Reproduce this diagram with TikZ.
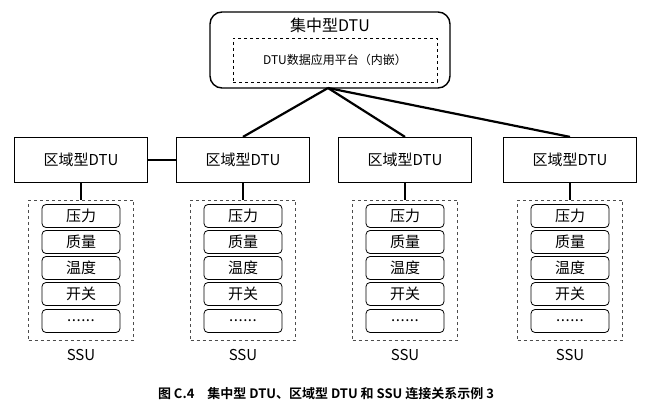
\documentclass[tikz,border=0pt]{standalone}
\usepackage{fontspec}
\setmainfont{Liberation Sans}
\newfontfamily\cjk{Noto Sans CJK SC}[BoldFont = * Bold]
\newcommand{\sixdots}{.\kern0.5pt.\kern0.5pt.\kern0.5pt.\kern0.5pt.\kern0.5pt.}
\tikzstyle{regnode} = [draw = black, line width = 1.2pt, minimum width = 133pt, minimum height = 45pt, font = \cjk\fontsize{15}{15}\selectfont]
\tikzstyle{itemnode} = [draw = black, line width = 0.8pt, rounded corners = 4pt, minimum width = 78pt, minimum height = 23pt, font = \cjk\fontsize{15}{15}\selectfont]
\tikzstyle{groupnode} = [draw = black!70, line width = 0.8pt, dashed, minimum width = 105pt, minimum height = 140pt]
\begin{document}
\begin{tikzpicture}[x = 1pt, y = -1pt, line width = 2.2pt]
			\useasboundingbox (0,0) rectangle (653,414);
			% top node
			\node[draw, line width = 1.4pt, rounded corners = 12pt, minimum width = 240pt, minimum height = 76pt] (top) at (330,50) {};
			\node[font = \cjk\fontsize{16}{16}\selectfont] at (330,25) {集中型DTU};
			\node[draw, line width = 0.9pt, dashed, minimum width = 204pt, minimum height = 44pt, font = \cjk\fontsize{12}{12}\selectfont] (plat) at (335,60) {DTU数据应用平台（内嵌）};
			\coordinate (hub) at (328,88);
			% regional nodes with SSU groups
			\foreach \n/\x in {1/81, 2/243, 3/405, 4/570} {
				\node[regnode] (R\n) at (\x,160) {区域型DTU};
				\node[groupnode] (G\n) at (\x,270) {};
				\foreach \t/\y in {压力/216, 质量/242, 温度/268, 开关/294, {\sixdots}/321} {
					\node[itemnode] at (\x,\y) {\t};
				}
				\node[font = \cjk\fontsize{15}{15}\selectfont] at (\x,355) {SSU};
				\draw (R\n) -- (G\n);
			}
			\draw (R1) -- (R2);
			\draw (hub) -- (R2.north);
			\draw (hub) -- (R3.north);
			\draw (hub) -- (R4.north);
			\node[font = \cjk\bfseries\fontsize{13}{13}\selectfont] at (326,394) {图 C.4\quad 集中型 DTU、区域型 DTU 和 SSU 连接关系示例 3};
		\end{tikzpicture}
\end{document}
